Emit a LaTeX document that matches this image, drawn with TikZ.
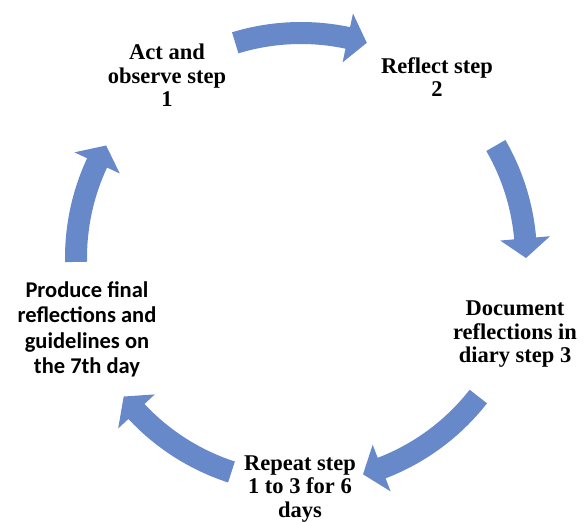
\documentclass[tikz,border=0pt]{standalone}
\usepackage{fontspec}
\setmainfont{Liberation Serif}
\newfontfamily\calibri{Carlito}
\usepackage{tikz}
\usetikzlibrary{positioning}

\definecolor{arrowblue}{RGB}{103,137,201}

\begin{document}
\begin{tikzpicture}[x=1pt,y=-1pt]
        \tikzset{stepnote/.style={align=center, inner sep=0pt, anchor=base,
                   font=\fontsize{22.5}{23.5}\selectfont\bfseries},
                 lastnote/.style={stepnote, font=\fontsize{22.5}{25.5}\selectfont\calibri\bfseries},
                 cyclefill/.style={fill=arrowblue, draw=none}}
        \useasboundingbox (0,0) rectangle (585,521);

        \coordinate (hub) at (301,258);

        % anchor=base sits on the last line
        \node   (act)      [stepnote] at (167,107)   {Act and\\observe step\\1};
        \node   (reflect)  [stepnote] at (437,97)    {Reflect step\\2};
        \node   (document) [stepnote] at (515,362.5) {Document\\reflections in\\diary step 3};
        \node   (repeat)   [stepnote] at (300,517)   {Repeat step\\1 to 3 for 6\\days};
        \node   (produce)  [lastnote] at (87,373.5)  {Produce final\\reflections and\\guidelines on\\the 7th day};

        \begin{scope}[shift={(hub)}, yscale=-1]
            \foreach \from/\to in {107/73, 30/0, -38/-74, -108/-142, 181/150}
                \fill[cyclefill] (\from:236) arc[start angle=\from, end angle=\to+5, radius=236]
                    -- (\to+5:250) -- (\to:225) -- (\to+5:200) -- (\to+5:214)
                    arc[start angle=\to+5, end angle=\from, radius=214] -- cycle;
        \end{scope}

    \end{tikzpicture}
\end{document}
